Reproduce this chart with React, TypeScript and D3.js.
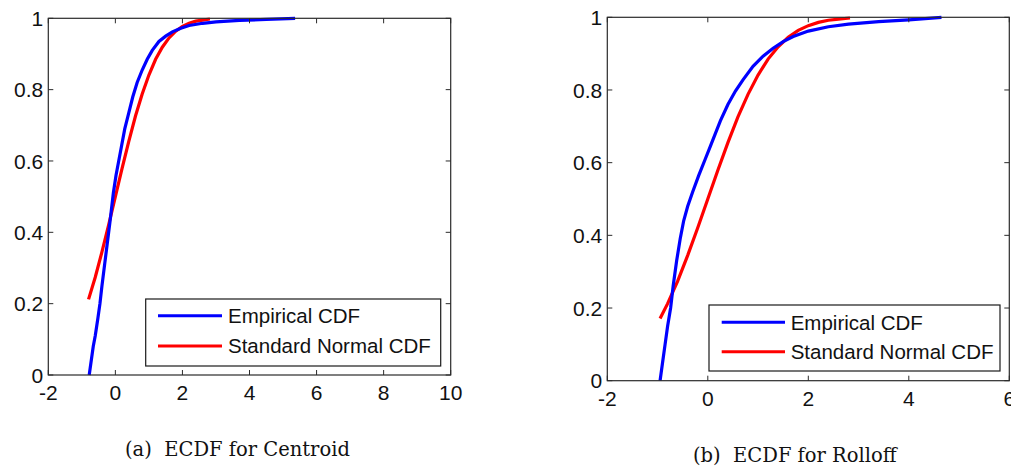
import React from "react";
import * as d3 from "d3";

// ---------- data ----------
// (a) Centroid: empirical CDF (x, F)
const centroidEmpX = [-0.78, -0.72, -0.66, -0.6, -0.52, -0.46, -0.4, -0.32, -0.24, -0.16, -0.06, 0.02, 0.1, 0.18, 0.28, 0.4, 0.52, 0.65, 0.8, 0.95, 1.1, 1.3, 1.5, 1.7, 1.95, 2.2, 2.6, 3.0, 3.7, 4.5, 5.36];
const centroidEmpY = [0, 0.04, 0.08, 0.11, 0.16, 0.2, 0.25, 0.31, 0.37, 0.43, 0.51, 0.56, 0.6, 0.64, 0.69, 0.735, 0.78, 0.82, 0.855, 0.885, 0.91, 0.935, 0.95, 0.962, 0.972, 0.98, 0.986, 0.99, 0.994, 0.997, 1.0];
// (a) Centroid: standard normal CDF
const centroidNormX = [-0.8, -0.6, -0.4, -0.2, 0.0, 0.2, 0.4, 0.6, 0.8, 1.0, 1.2, 1.4, 1.6, 1.8, 2.0, 2.2, 2.4, 2.6, 2.82];
const centroidNormY = [0.212, 0.274, 0.345, 0.421, 0.5, 0.579, 0.655, 0.726, 0.788, 0.841, 0.885, 0.919, 0.945, 0.964, 0.977, 0.986, 0.992, 0.995, 0.998];

// (b) Rolloff: empirical CDF
const rolloffEmpX = [-0.95, -0.9, -0.85, -0.8, -0.74, -0.69, -0.62, -0.55, -0.48, -0.4, -0.3, -0.18, -0.05, 0.05, 0.15, 0.25, 0.4, 0.55, 0.7, 0.9, 1.1, 1.3, 1.5, 1.7, 2.0, 2.4, 2.8, 3.4, 4.0, 4.65];
const rolloffEmpY = [0, 0.05, 0.1, 0.15, 0.2, 0.26, 0.33, 0.39, 0.44, 0.48, 0.52, 0.565, 0.61, 0.645, 0.68, 0.715, 0.76, 0.797, 0.828, 0.865, 0.893, 0.915, 0.933, 0.947, 0.962, 0.974, 0.981, 0.988, 0.993, 1.0];
// (b) Rolloff: standard normal CDF
const rolloffNormX = [-0.95, -0.8, -0.6, -0.4, -0.2, 0.0, 0.2, 0.4, 0.6, 0.8, 1.0, 1.2, 1.4, 1.6, 1.8, 2.0, 2.2, 2.4, 2.6, 2.83];
const rolloffNormY = [0.171, 0.212, 0.274, 0.345, 0.421, 0.5, 0.579, 0.655, 0.726, 0.788, 0.841, 0.885, 0.919, 0.945, 0.964, 0.977, 0.986, 0.992, 0.995, 0.998];

const yTicks = [0, 0.2, 0.4, 0.6, 0.8, 1];
const xTicksA = [-2, 0, 2, 4, 6, 8, 10];
const xTicksB = [-2, 0, 2, 4, 6];
const seriesNames = ["Empirical CDF", "Standard Normal CDF"];
const seriesColors = ["#0000ff", "#ff0000"];
const captions = ["(a)  ECDF for Centroid", "(b)  ECDF for Rolloff"];

const tickFont = "'Liberation Sans', Arial, sans-serif";

type PanelProps = {
  xDomain: [number, number];
  xRange: [number, number];
  yRange: [number, number];
  xTicks: number[];
  emp: [number[], number[]];
  norm: [number[], number[]];
  legend: { x: number; y: number; w: number; h: number; lx0: number; lx1: number; tx: number; ly: [number, number] };
};

function Panel({ xDomain, xRange, yRange, xTicks, emp, norm, legend }: PanelProps) {
  const x = d3.scaleLinear().domain(xDomain).range(xRange);
  const y = d3.scaleLinear().domain([0, 1]).range(yRange);
  const line = d3
    .line<[number, number]>()
    .x((d) => x(d[0]))
    .y((d) => y(d[1]))
    .curve(d3.curveLinear);
  const empPts = emp[0].map((v, i) => [v, emp[1][i]] as [number, number]);
  const normPts = norm[0].map((v, i) => [v, norm[1][i]] as [number, number]);
  const [x0, x1] = xRange;
  const [yb, yt] = yRange;
  const tl = 5;
  return (
    <g>
      <rect x={x0} y={yt} width={x1 - x0} height={yb - yt} fill="#fff" />
      <path d={line(normPts) || ""} fill="none" stroke={seriesColors[1]} strokeWidth={3.2} />
      <path d={line(empPts) || ""} fill="none" stroke={seriesColors[0]} strokeWidth={3.2} />
      {/* axes box */}
      <rect x={x0} y={yt} width={x1 - x0} height={yb - yt} fill="none" stroke="#2b2b2b" strokeWidth={1.2} />
      {xTicks.map((t) => (
        <g key={"x" + t}>
          <line x1={x(t)} x2={x(t)} y1={yb} y2={yb - tl} stroke="#2b2b2b" />
          <line x1={x(t)} x2={x(t)} y1={yt} y2={yt + tl} stroke="#2b2b2b" />
          <text x={x(t)} y={yb + 25} textAnchor="middle" fontFamily={tickFont} fontSize={21} fill="#111">
            {t}
          </text>
        </g>
      ))}
      {yTicks.map((t) => (
        <g key={"y" + t}>
          <line x1={x0} x2={x0 + tl} y1={y(t)} y2={y(t)} stroke="#2b2b2b" />
          <line x1={x1} x2={x1 - tl} y1={y(t)} y2={y(t)} stroke="#2b2b2b" />
          <text x={x0 - 5} y={y(t)} dy="0.36em" textAnchor="end" fontFamily={tickFont} fontSize={21} fill="#111">
            {String(t)}
          </text>
        </g>
      ))}
      {/* legend */}
      <rect x={legend.x} y={legend.y} width={legend.w} height={legend.h} fill="#fff" stroke="#1a1a1a" strokeWidth={1.2} />
      {seriesNames.map((n, i) => (
        <g key={n}>
          <line x1={legend.lx0} x2={legend.lx1} y1={legend.ly[i]} y2={legend.ly[i]} stroke={seriesColors[i]} strokeWidth={3} />
          <text x={legend.tx} y={legend.ly[i]} dy="0.36em" fontFamily={tickFont} fontSize={20.5} fill="#111">
            {n}
          </text>
        </g>
      ))}
    </g>
  );
}

export default function App() {
  return (
    <svg
      width={1011}
      height={471}
      viewBox="0 0 1011 471"
      style={{ position: "absolute", left: 0, top: 0, background: "#fff" }}
    >
      <rect width={1011} height={471} fill="#fff" />
      <Panel
        xDomain={[-2, 10]}
        xRange={[48.3, 450.7]}
        yRange={[375, 18.3]}
        xTicks={xTicksA}
        emp={[centroidEmpX, centroidEmpY]}
        norm={[centroidNormX, centroidNormY]}
        legend={{ x: 145.7, y: 299, w: 295, h: 67, lx0: 158, lx1: 222, tx: 228, ly: [315.7, 346] }}
      />
      <Panel
        xDomain={[-2, 6]}
        xRange={[607.3, 1009.3]}
        yRange={[380.7, 17.3]}
        xTicks={xTicksB}
        emp={[rolloffEmpX, rolloffEmpY]}
        norm={[rolloffNormX, rolloffNormY]}
        legend={{ x: 709, y: 305, w: 291, h: 66, lx0: 721.7, lx1: 785, tx: 790.7, ly: [322.3, 351.7] }}
      />
      <text x={125} y={456} fontFamily="'DejaVu Serif', serif" fontSize={19.5} fill="#111" style={{ whiteSpace: "pre" }}>
        {captions[0]}
      </text>
      <text x={693} y={462} fontFamily="'DejaVu Serif', serif" fontSize={19.5} fill="#111" style={{ whiteSpace: "pre" }}>
        {captions[1]}
      </text>
    </svg>
  );
}
